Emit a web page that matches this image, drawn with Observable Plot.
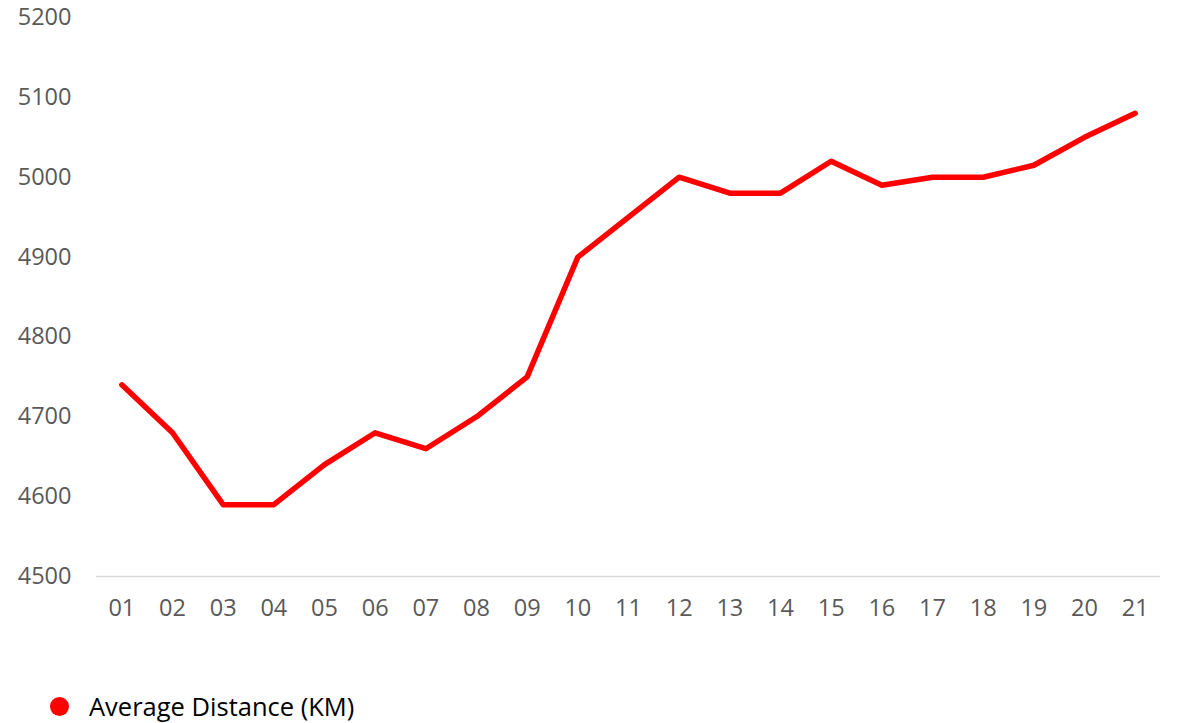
<!DOCTYPE html>
<html>
<head>
<meta charset="utf-8">
<script src="https://cdn.jsdelivr.net/npm/d3@7"></script>
<script src="https://cdn.jsdelivr.net/npm/@observablehq/plot@0.6"></script>
<style>
  html, body { margin: 0; padding: 0; background: #fff; }
  #chart { position: relative; width: 1178px; height: 723px; }
  #legend { position: absolute; left: 50px; top: 689px; display: flex; align-items: center;
            font-family: "Open Sans", sans-serif; font-size: 25.5px; color: #000; }
  #legend .sw { width: 19px; height: 19px; border-radius: 50%; background: #ff0000; margin-right: 20px; }
</style>
</head>
<body>
<div id="chart"></div>
<script>
const days = ["01","02","03","04","05","06","07","08","09","10","11","12","13","14","15","16","17","18","19","20","21"];
const distance = [4740,4680,4590,4590,4640,4680,4660,4700,4750,4900,4950,5000,4980,4980,5020,4990,5000,5000,5015,5050,5080];
const yTicks = [4500,4600,4700,4800,4900,5000,5100,5200];
const seriesName = "Average Distance (KM)";

const data = days.map((d, i) => ({day: d, value: distance[i]}));

const plot = Plot.plot({
  width: 1178,
  height: 650,
  marginTop: 17,
  marginBottom: 74,
  marginLeft: 96,
  marginRight: 18,
  style: {fontFamily: "'Open Sans', sans-serif", fontSize: "23.5px", color: "#595959", background: "#fff"},
  x: {type: "point", domain: days, padding: 0.5, round: false, label: null},
  y: {domain: [4500, 5200], label: null},
  marks: [
    Plot.ruleY([4500], {stroke: "#d9d9d9", strokeWidth: 1.5}),
    Plot.axisY({ticks: yTicks, tickFormat: d3.format("d"), tickSize: 0, tickPadding: 25, label: null, fill: "#595959"}),
    Plot.axisX({tickSize: 0, tickPadding: 23, label: null, fill: "#595959"}),
    Plot.line(data, {x: "day", y: "value", stroke: "#ff0000", strokeWidth: 5.5, strokeLinecap: "round"})
  ]
});
const chart = document.getElementById("chart");
chart.appendChild(plot);
const legend = document.createElement("div");
legend.id = "legend";
legend.innerHTML = `<span class="sw"></span><span>${seriesName}</span>`;
chart.appendChild(legend);
</script>
</body>
</html>
